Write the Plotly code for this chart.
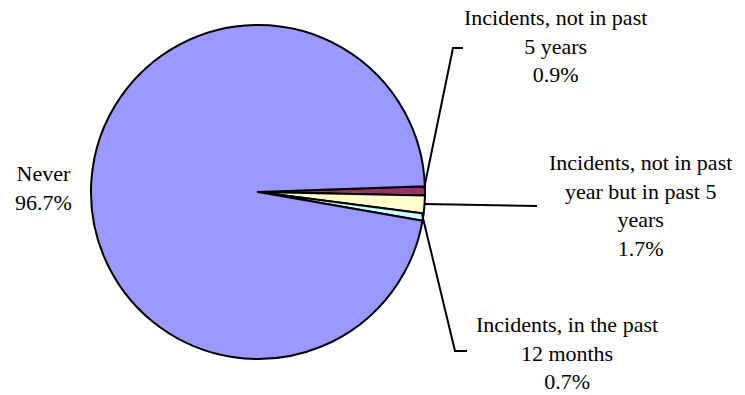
import plotly.graph_objects as go

W, H = 745, 395
OFF = 8  # page body margin offset in the browser

categories = ["Incidents, not in past 5 years",
              "Incidents, not in past year but in past 5 years",
              "Incidents, in the past 12 months",
              "Never"]
values = [0.9, 1.7, 0.7, 96.7]
colors = ["#993366", "#FFFFCC", "#CCFFFF", "#9999FF"]
label_texts = ["Incidents, not in past<br>5 years<br>0.9%",
               "Incidents, not in past<br>year but in past 5<br>years<br>1.7%",
               "Incidents, in the past<br>12 months<br>0.7%",
               "Never<br>96.7%"]


def px(x):
    return (x - OFF) / W


def py(y):
    return 1 - (y - OFF) / H


cx, cy, r = 258, 192, 167

fig = go.Figure(go.Pie(
    labels=categories, values=values, sort=False,
    direction="clockwise", rotation=88,
    marker=dict(colors=colors, line=dict(color="black", width=2)),
    textinfo="none", hoverinfo="label+percent", showlegend=False,
    domain=dict(x=[px(cx - r), px(cx + r)],
                y=[py(cy + r), py(cy - r)]),
))

font = dict(family="Liberation Serif", size=22, color="black")
label_pos = [(555, 46), (640, 205), (567, 353), (43, 188)]
annotations = []
for t, (x, y) in zip(label_texts, label_pos):
    annotations.append(dict(text=t, x=px(x), y=py(y), xref="paper", yref="paper",
                            showarrow=False, font=font, align="center",
                            xanchor="center", yanchor="middle"))

leaders = [
    [(424, 189), (453, 48), (463, 48)],
    [(424, 204), (537, 206)],
    [(422, 214), (455, 351), (467, 351)],
]
shapes = []
for pts in leaders:
    path = "M " + " L ".join(f"{px(x)},{py(y)}" for x, y in pts)
    shapes.append(dict(type="path", path=path, xref="paper", yref="paper",
                       line=dict(color="black", width=2)))

fig.update_layout(width=W, height=H, margin=dict(l=0, r=0, t=0, b=0),
                  paper_bgcolor="white", plot_bgcolor="white",
                  annotations=annotations, shapes=shapes)

fig.write_html("out.html")
